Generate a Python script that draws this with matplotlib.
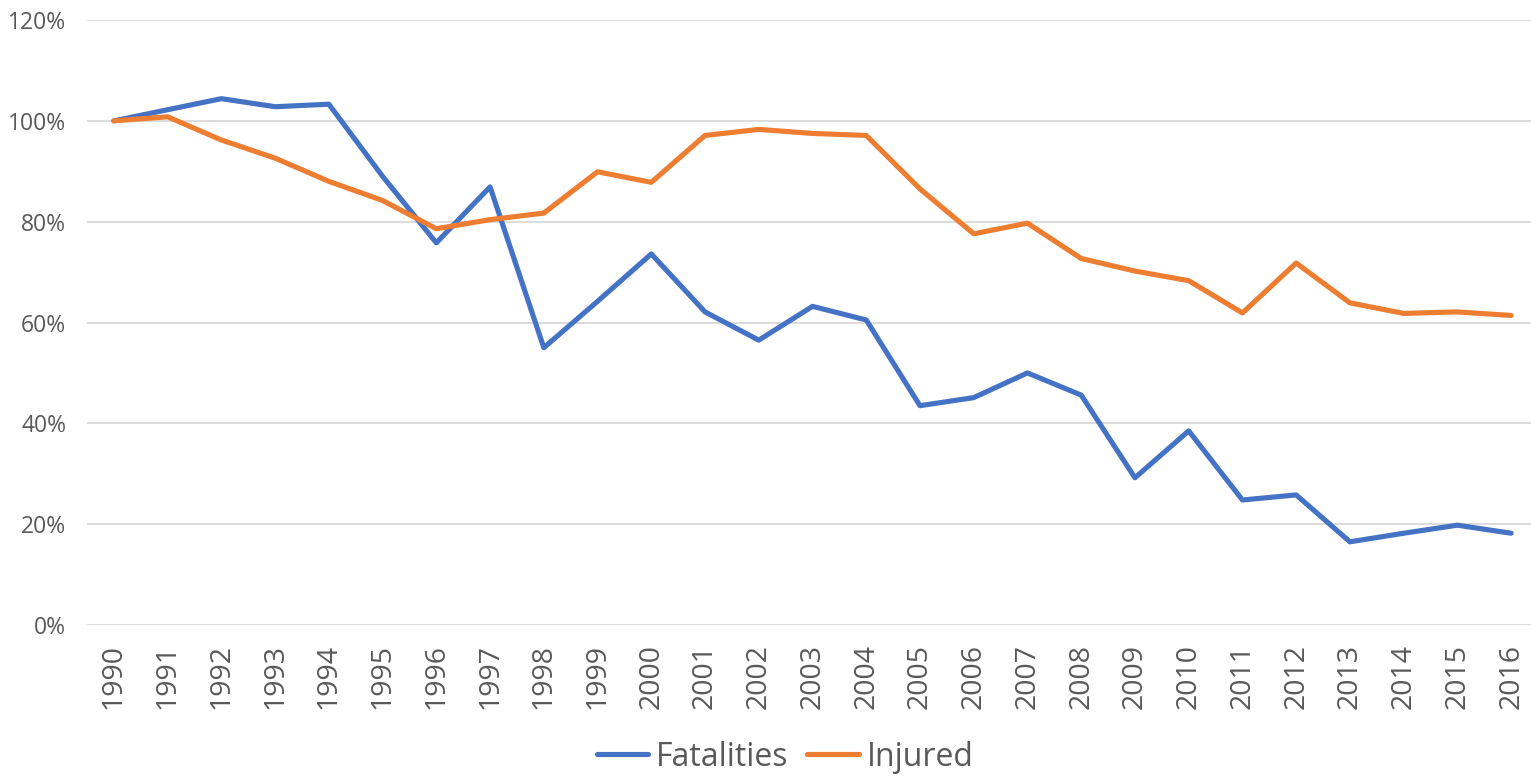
import matplotlib
matplotlib.use("Agg")
import matplotlib.pyplot as plt
from matplotlib.ticker import PercentFormatter

years = [str(y) for y in range(1990, 2017)]
fatalities = [100, 102.2, 104.4, 102.8, 103.3, 89.0, 75.8, 86.9, 55.0, 64.2, 73.6,
              62.1, 56.5, 63.2, 60.5, 43.5, 45.1, 50.0, 45.6, 29.2, 38.5,
              24.8, 25.8, 16.5, 18.2, 19.8, 18.2]
injured = [100, 100.8, 96.2, 92.6, 88.0, 84.2, 78.6, 80.4, 81.7, 89.9, 87.8,
           97.1, 98.3, 97.5, 97.1, 86.5, 77.6, 79.7, 72.7, 70.2, 68.3,
           61.9, 71.8, 63.9, 61.8, 62.1, 61.4]
yticks = [0, 20, 40, 60, 80, 100, 120]

plt.rcParams['font.family'] = ['Open Sans', 'DejaVu Sans']

W, H = 1531, 776
fig = plt.figure(figsize=(W / 100, H / 100), dpi=100)
ax = fig.add_axes([87 / W, 1 - 625 / H, (1538 - 87) / W, (625 - 20) / H])

x = list(range(len(years)))
ax.plot(x, fatalities, color='#4472C4', lw=3.7, label='Fatalities', solid_joinstyle='round', solid_capstyle='round')
ax.plot(x, injured, color='#ED7D31', lw=3.7, label='Injured', solid_joinstyle='round', solid_capstyle='round')

ax.set_xlim(-0.5, len(years) - 0.5)
ax.set_ylim(0, 120)
ax.set_yticks(yticks)
ax.yaxis.set_major_formatter(PercentFormatter(decimals=0))
ax.set_xticks(x)
ax.set_xticklabels(years, rotation=90)
ax.grid(axis='y', color='#D9D9D9', lw=1.3)
ax.set_axisbelow(True)
for s in ax.spines.values():
    s.set_visible(False)
ax.tick_params(axis='both', length=0, colors='#595959')
ax.tick_params(axis='y', labelsize=16.5, pad=15)
ax.tick_params(axis='x', labelsize=20.5, pad=14)

leg = fig.legend(loc='center', bbox_to_anchor=(785 / W, 1 - 757 / H), ncol=2, frameon=False,
                 fontsize=23, handlelength=1.6, handletextpad=0.25, columnspacing=0.6)
for t in leg.get_texts():
    t.set_color('#595959')

fig.savefig('out.png', dpi=100)
